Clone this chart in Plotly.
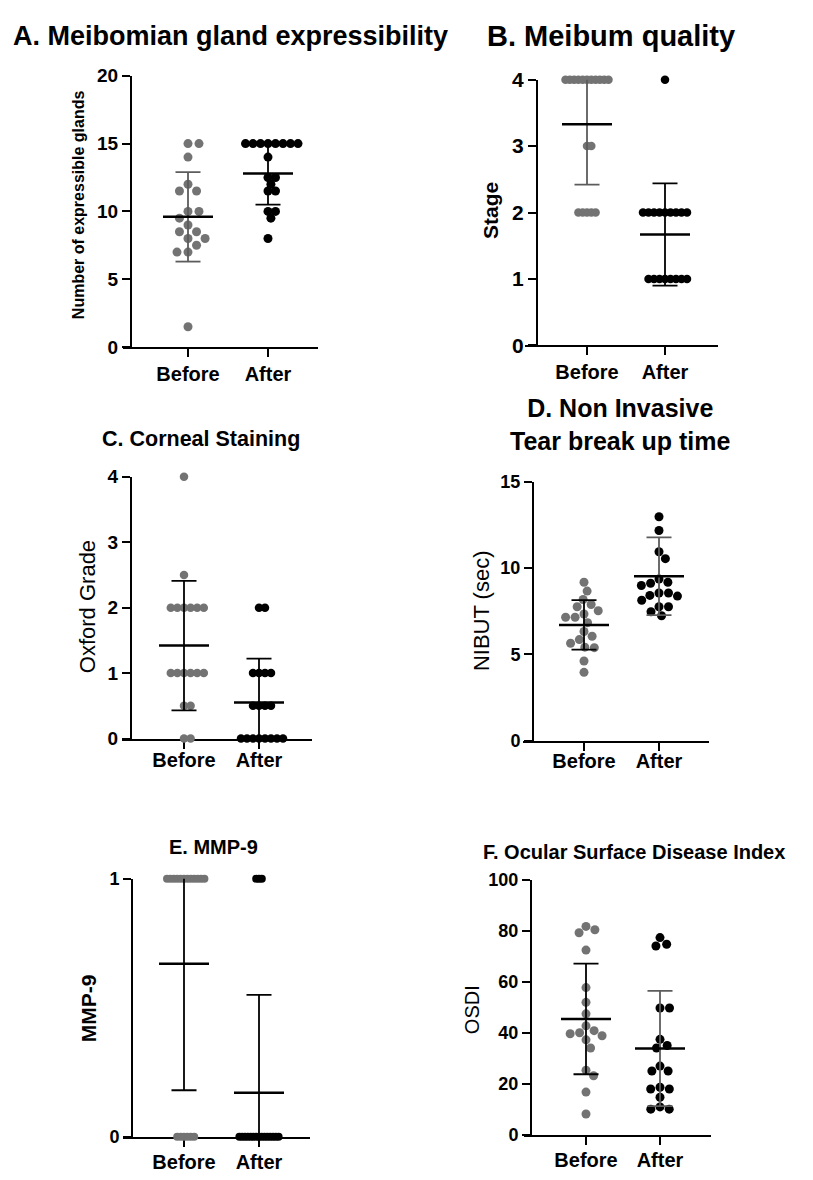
import math
import plotly.graph_objects as go

W, H = 813, 1180
FONT = "Liberation Sans"
GRAY = "#737373"
DGRAY = "#5c5c5c"
BLACK = "#000000"

categories = ["Before", "After"]

# ---- Data ----
A_before = [15, 15, 14, 12, 11.5, 11.5, 10, 10, 9.5, 9, 8.5, 8.5, 8, 8, 7.5, 7, 7, 1.5]
A_after = [15, 15, 15, 15, 15, 15, 15, 15, 14, 12.5, 12.5, 12, 11.5, 11.5, 10, 10, 9.5, 8]
A_mean = [9.6, 12.8]
A_sd = [3.3, 2.3]
A_ticks = [0, 5, 10, 15, 20]

B_before = [4, 4, 4, 4, 4, 4, 4, 4, 4, 4, 4, 3, 3, 2, 2, 2, 2, 2]
B_after = [4, 2, 2, 2, 2, 2, 2, 2, 2, 2, 1, 1, 1, 1, 1, 1, 1, 1]
B_mean = [3.33, 1.67]
B_sd = [0.91, 0.77]
B_ticks = [0, 1, 2, 3, 4]

C_before = [4, 2.5, 2, 2, 2, 2, 2, 2, 1, 1, 1, 1, 1, 1, 0.5, 0.5, 0, 0]
C_after = [2, 2, 1, 1, 1, 1, 0.5, 0.5, 0.5, 0.5, 0, 0, 0, 0, 0, 0, 0, 0]
C_mean = [1.42, 0.55]
C_sd = [0.99, 0.67]
C_ticks = [0, 1, 2, 3, 4]

D_before = [9.17, 8.66, 8.17, 7.88, 7.75, 7.52, 7.33, 7.14, 7.14, 6.83, 6.32, 6.04,
            5.85, 5.64, 5.41, 5.38, 4.61, 3.95]
D_after = [12.97, 12.17, 10.94, 10.54, 9.36, 9.17, 9.11, 8.98, 8.55, 8.55, 8.41, 8.37,
           8.13, 7.75, 7.75, 7.46, 7.23]
D_mean = [6.70, 9.52]
D_sd = [1.43, 2.25]
D_ticks = [0, 5, 10, 15]

E_before = [1, 1, 1, 1, 1, 1, 1, 1, 1, 1, 1, 1, 0, 0, 0, 0, 0, 0]
E_after = [1, 1, 1, 0, 0, 0, 0, 0, 0, 0, 0, 0, 0, 0, 0, 0, 0, 0]
E_mean = [0.67, 0.17]
E_sd = [0.49, 0.38]
E_ticks = [0, 1]

F_before = [81.7, 80.4, 79.2, 72.4, 57.7, 51.9, 47.4, 42.7, 40.8, 40.0, 39.6, 38.8,
            37.2, 34.0, 25.3, 23.1, 16.7, 8.1]
F_after = [77.3, 74.7, 74.0, 49.7, 49.7, 37.4, 35.0, 34.0, 26.9, 25.0, 25.0, 18.6,
           17.9, 17.9, 14.7, 10.9, 10.0, 10.0]
F_mean = [45.4, 33.8]
F_sd = [21.7, 22.6]
F_ticks = [0, 20, 40, 60, 80, 100]

panels = [
    dict(title="A. Meibomian gland expressibility", tsize=27, txy=(230, 24),
         ylabel="Number of expressible glands", lsize=16, lbold=True, lxy=(78, 197),
         data=(A_before, A_after), mean=A_mean, sd=A_sd, yticks=A_ticks,
         yax=131, x0=123, x1=318, top=65, bottom=341.7, cats=(188, 268),
         tick=19, msize=9, gap=(11, 7.5), sdc=(DGRAY, BLACK), stand=0),
    dict(title="B. Meibum quality", tsize=29, txy=(611, 24),
         ylabel="Stage", lsize=21, lbold=True, lxy=(490, 203),
         data=(B_before, B_after), mean=B_mean, sd=B_sd, yticks=B_ticks,
         yax=537, x0=525, x1=718, top=69, bottom=340, cats=(587, 665),
         tick=21, msize=8.5, gap=(4.3, 5.5), sdc=(DGRAY, BLACK), stand=0),
    dict(title="C. Corneal Staining", tsize=21.5, txy=(201, 435),
         ylabel="Oxford Grade", lsize=22, lbold=False, lxy=(87, 607),
         data=(C_before, C_after), mean=C_mean, sd=C_sd, yticks=C_ticks,
         yax=131, x0=122, x1=312, top=474, bottom=741, cats=(184, 259),
         tick=19, msize=8.5, gap=(6.6, 6), sdc=(BLACK, BLACK), stand=-6),
    dict(title="D. Non Invasive<br>Tear break up time", tsize=25, txy=(620, 421),
         ylabel="NIBUT (sec)", lsize=22, lbold=False, lxy=(481, 611),
         data=(D_before, D_after), mean=D_mean, sd=D_sd, yticks=D_ticks,
         yax=533, x0=523, x1=709, top=479, bottom=743, cats=(584, 659),
         tick=18, msize=9, gap=(9.5, 9.5), sdc=(BLACK, DGRAY), stand=-7),
    dict(title="E. MMP-9", tsize=20, txy=(213, 852),
         ylabel="MMP-9", lsize=21, lbold=True, lxy=(88, 1016),
         data=(E_before, E_after), mean=E_mean, sd=E_sd, yticks=E_ticks,
         yax=132, x0=123, x1=310, top=884, bottom=1147, cats=(184, 259),
         tick=18, msize=8, gap=(3.4, 2.8), sdc=(BLACK, BLACK), stand=-2),
    dict(title="F. Ocular Surface Disease Index", tsize=20, txy=(634, 857),
         ylabel="OSDI", lsize=20, lbold=False, lxy=(472, 1018),
         data=(F_before, F_after), mean=F_mean, sd=F_sd, yticks=F_ticks,
         yax=531, x0=524, x1=711, top=885, bottom=1145, cats=(586, 660),
         tick=18, msize=9, gap=(9.5, 9.5), sdc=(BLACK, DGRAY), stand=-2),
]


def swarm(vals, d, ppu):
    """Deterministic beeswarm: horizontal pixel offsets so markers do not overlap."""
    placed = []
    out = []
    for v in vals:
        y = v * ppu
        cands = [0.0]
        for px, py in placed:
            dy = abs(py - y)
            if dy < d:
                dx = math.sqrt(d * d - dy * dy)
                cands += [px + dx, px - dx]
        cands.sort(key=lambda c: (round(abs(c), 6), -c))
        x = 0.0
        for c in cands:
            if all((c - px) ** 2 + (y - py) ** 2 >= d * d - 1e-6 for px, py in placed):
                x = c
                break
        placed.append((x, y))
        out.append(x)
    return out


fig = go.Figure()
layout = dict(width=W, height=H, margin=dict(l=0, r=0, t=0, b=0, pad=0), autosize=False,
              paper_bgcolor="white", plot_bgcolor="white", showlegend=False,
              hovermode=False, font=dict(family=FONT, color="black"))
annotations = []

for i, p in enumerate(panels, start=1):
    xa = "x" if i == 1 else f"x{i}"
    ya = "y" if i == 1 else f"y{i}"
    xk = "xaxis" if i == 1 else f"xaxis{i}"
    yk = "yaxis" if i == 1 else f"yaxis{i}"
    c0, c1 = p["cats"]
    pxu = c1 - c0
    ymax = p["yticks"][-1]
    ppu = (p["bottom"] - p["top"]) / ymax

    layout[xk] = dict(domain=[p["x0"] / W, p["x1"] / W], anchor=ya,
                      range=[-(c0 - p["x0"]) / pxu, (p["x1"] - c0) / pxu],
                      tickvals=[0, 1], ticktext=categories, ticks="outside",
                      ticklen=8, tickwidth=2, tickcolor="black", showline=True,
                      linewidth=2, linecolor="black", showgrid=False, zeroline=False,
                      ticklabelstandoff=p["stand"],
                      tickfont=dict(family=FONT, size=20, weight="bold", color="black"),
                      layer="below traces", fixedrange=True)
    layout[yk] = dict(domain=[1 - p["bottom"] / H, 1 - p["top"] / H], anchor="free",
                      position=p["yax"] / W, range=[0, ymax], tickvals=p["yticks"],
                      ticks="outside", ticklen=8, tickwidth=2, tickcolor="black",
                      showline=True, linewidth=2, linecolor="black", showgrid=False,
                      zeroline=False,
                      tickfont=dict(family=FONT, size=p["tick"], weight="bold", color="black"),
                      layer="below traces", fixedrange=True)

    colors = (GRAY, BLACK)
    for g, vals in enumerate(p["data"]):
        offs = swarm(vals, p["gap"][g], ppu)
        fig.add_trace(go.Scatter(
            x=[g + o / pxu for o in offs], y=vals, mode="markers",
            marker=dict(size=p["msize"], color=colors[g], line=dict(width=0)),
            cliponaxis=False, xaxis=xa, yaxis=ya, hoverinfo="skip"))

    mw = 25 / pxu
    cw = 12.5 / pxu
    for g in range(2):
        m, s = p["mean"][g], p["sd"][g]
        fig.add_trace(go.Scatter(
            x=[g, g, None, g - cw, g + cw, None, g - cw, g + cw],
            y=[m - s, m + s, None, m - s, m - s, None, m + s, m + s],
            mode="lines", line=dict(color=p["sdc"][g], width=1.8),
            xaxis=xa, yaxis=ya, hoverinfo="skip"))
        fig.add_trace(go.Scatter(
            x=[g - mw, g + mw], y=[m, m], mode="lines",
            line=dict(color=BLACK, width=2.5), xaxis=xa, yaxis=ya, hoverinfo="skip"))

    tx, ty = p["txy"]
    annotations.append(dict(text=p["title"], x=tx / W, y=1 - ty / H, xref="paper",
                            yref="paper", xanchor="center", yanchor="middle",
                            showarrow=False,
                            font=dict(family=FONT, size=p["tsize"], weight="bold",
                                      color="black")))
    lx, ly = p["lxy"]
    annotations.append(dict(text=p["ylabel"], x=lx / W, y=1 - ly / H, xref="paper",
                            yref="paper", xanchor="center", yanchor="middle",
                            textangle=-90, showarrow=False,
                            font=dict(family=FONT, size=p["lsize"],
                                      weight="bold" if p["lbold"] else "normal",
                                      color="black")))

layout["annotations"] = annotations
fig.update_layout(**layout)
fig.write_html("out.html", config={"displayModeBar": False, "staticPlot": True},
               post_script="document.body.style.margin='0';document.body.style.overflow='hidden';")
